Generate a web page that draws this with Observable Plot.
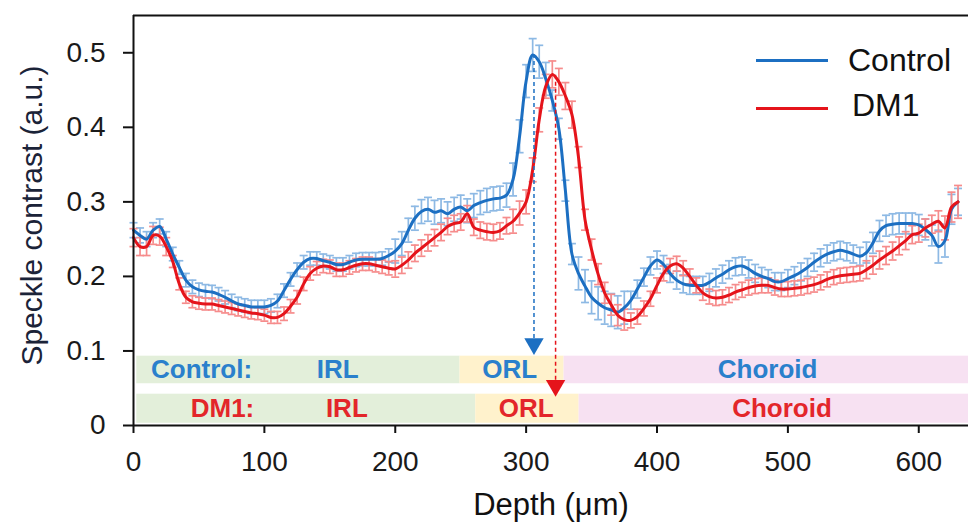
<!DOCTYPE html>
<html><head><meta charset="utf-8">
<script src="https://cdn.jsdelivr.net/npm/d3@7"></script>
<script src="https://cdn.jsdelivr.net/npm/@observablehq/plot@0.6"></script>
<style>
body{margin:0;background:#fff}
#wrap{position:relative;width:969px;height:523px;font-family:"Liberation Sans",Arial,sans-serif}
.lg{position:absolute;left:756px;width:72px;height:3px}
.lt{position:absolute;font-size:32px;line-height:1;color:#111;white-space:nowrap}
</style></head>
<body><div id="wrap"></div>
<script>
const depth = [0,5,10,15,20,25,30,35,40,45,50,55,60,65,70,75,80,85,90,95,100,105,110,115,120,125,130,135,140,145,150,155,160,165,170,175,180,185,190,195,200,205,210,215,220,225,230,235,240,245,250,255,260,265,270,275,280,285,290,295,300,305,310,315,320,325,330,335,340,345,350,355,360,365,370,375,380,385,390,395,400,405,410,415,420,425,430,435,440,445,450,455,460,465,470,475,480,485,490,495,500,505,510,515,520,525,530,535,540,545,550,555,560,565,570,575,580,585,590,595,600,605,610,615,620,625,630];
const controlMean = [0.262,0.255,0.250,0.262,0.267,0.250,0.230,0.212,0.195,0.186,
0.182,0.180,0.179,0.176,0.172,0.167,0.163,0.161,0.159,0.159,
0.159,0.161,0.167,0.181,0.196,0.209,0.219,0.224,0.224,0.221,
0.219,0.216,0.216,0.219,0.222,0.223,0.223,0.223,0.224,0.228,
0.234,0.244,0.262,0.278,0.287,0.290,0.286,0.288,0.284,0.290,
0.293,0.288,0.295,0.299,0.302,0.304,0.305,0.309,0.330,0.388,
0.462,0.497,0.488,0.465,0.436,0.398,0.315,0.230,0.204,0.187,
0.172,0.164,0.158,0.155,0.152,0.158,0.168,0.183,0.199,0.214,
0.222,0.216,0.204,0.195,0.190,0.188,0.188,0.188,0.192,0.198,
0.203,0.209,0.213,0.214,0.210,0.204,0.200,0.197,0.193,0.193,
0.197,0.201,0.206,0.212,0.219,0.225,0.230,0.233,0.235,0.233,
0.230,0.227,0.232,0.245,0.261,0.268,0.270,0.271,0.271,0.271,
0.269,0.263,0.255,0.240,0.248,0.290,0.300];
const controlErr = [0.010,0.010,0.010,0.010,0.010,0.010,
0.009,0.009,0.009,0.009,0.009,0.009,0.009,0.009,0.009,0.009,0.009,0.009,0.009,0.009,0.009,0.009,0.009,
0.009,0.009,0.009,0.009,0.009,0.009,0.009,0.009,0.009,0.009,0.009,0.009,0.009,0.009,0.009,0.009,0.009,
0.016,0.016,0.016,0.016,0.016,0.016,0.016,0.016,0.016,0.016,0.016,0.016,0.016,0.016,0.016,0.016,0.016,0.016,
0.022,0.022,0.022,0.022,0.022,0.022,
0.014,0.014,0.014,0.014,
0.022,0.022,0.022,0.022,0.022,0.022,0.022,0.022,
0.012,0.012,0.012,0.012,0.012,
0.012,0.012,0.012,0.012,0.012,0.012,0.012,0.012,0.012,0.012,0.012,0.012,0.012,0.012,0.012,0.012,0.012,0.012,0.012,0.012,0.012,0.012,0.012,0.012,0.012,0.012,0.012,0.012,0.012,0.012,0.012,
0.014,0.014,0.014,0.014,0.014,0.014,0.014,0.014,0.014,0.014,0.014,
0.022,0.022,0.020,0.018];
const dm1Mean = [0.252,0.240,0.240,0.255,0.254,0.240,0.220,0.190,0.172,0.166,
0.164,0.163,0.163,0.161,0.159,0.157,0.155,0.153,0.151,0.150,
0.148,0.145,0.145,0.150,0.160,0.172,0.190,0.204,0.211,0.214,
0.213,0.209,0.209,0.212,0.215,0.217,0.217,0.215,0.213,0.211,
0.210,0.215,0.222,0.231,0.238,0.245,0.252,0.259,0.267,0.271,
0.273,0.284,0.266,0.262,0.260,0.259,0.261,0.268,0.274,0.285,
0.300,0.343,0.410,0.455,0.471,0.461,0.442,0.417,0.360,0.276,
0.236,0.203,0.178,0.162,0.148,0.142,0.141,0.146,0.157,0.170,
0.188,0.204,0.214,0.217,0.211,0.200,0.188,0.178,0.173,0.171,
0.172,0.175,0.179,0.182,0.185,0.187,0.188,0.188,0.185,0.183,
0.183,0.184,0.185,0.187,0.189,0.192,0.196,0.199,0.201,0.202,
0.203,0.204,0.209,0.215,0.222,0.228,0.234,0.241,0.248,0.256,
0.258,0.265,0.270,0.274,0.265,0.293,0.300];
const dm1Err = [0.012,0.012,0.012,0.012,0.012,0.012,
0.008,0.008,0.008,0.008,0.008,0.008,0.008,0.008,0.008,0.008,0.008,0.008,0.008,0.008,0.008,0.008,0.008,
0.009,0.009,0.009,0.009,0.009,0.009,0.009,0.009,0.009,0.009,0.009,0.009,0.009,0.009,0.009,0.009,0.009,
0.011,0.011,0.011,0.011,0.011,0.011,0.011,0.011,0.011,0.011,0.011,0.011,0.011,0.011,0.011,0.011,0.011,0.011,
0.016,0.016,0.016,0.016,0.016,0.016,
0.018,0.018,0.018,0.018,
0.014,0.014,0.014,0.014,0.014,0.014,0.014,0.014,
0.010,0.010,0.010,0.010,0.010,
0.010,0.010,0.010,0.010,0.010,0.010,0.010,0.010,0.010,0.010,0.010,0.010,0.010,0.010,0.010,0.010,0.010,0.010,0.010,0.010,0.010,0.010,0.010,0.010,0.010,0.010,0.010,0.010,0.010,0.010,0.010,
0.012,0.012,0.012,0.012,0.012,0.012,0.012,0.012,0.012,0.012,0.012,
0.014,0.016,0.020,0.022];

// layer bands (depth in µm, contrast units for the row)
const bandGroup = ["Control","Control","Control","DM1","DM1","DM1"];
const bandLayer = ["IRL","ORL","Choroid","IRL","ORL","Choroid"];
const bandStart = [2.5,249.5,329,2.5,261.5,340.5];
const bandEnd = [249.5,329,638,261.5,340.5,638];
const rowLow = {Control:0.056, DM1:0.003};
const rowHigh = {Control:0.093, DM1:0.042};

const labelText = ["Control:","IRL","ORL","Choroid","DM1:","IRL","ORL","Choroid"];
const labelGroup = ["Control","Control","Control","Control","DM1","DM1","DM1","DM1"];
const labelDepth = [52,156,287.5,484.5,68,163,300,495.5];

// peak arrows
const arrowGroup = ["Control","DM1"];
const arrowDepth = [306,322.5];
const arrowTop = [0.497,0.471];
const arrowTip = [0.098,0.042];

const xTicks = [0,100,200,300,400,500,600];
const yTicks = [0,0.1,0.2,0.3,0.4,0.5];

const lineColor = {Control:"#1c6fc2", DM1:"#e5141b"};
const errColor = {Control:"#8db9e4", DM1:"#f68c8c"};
const textColor = {Control:"#2a80cc", DM1:"#e3262a"};
const layerFill = {IRL:"#e3efda", ORL:"#fff2cc", Choroid:"#f7e1f2"};

const ctrl = depth.map((d,i)=>({x:d,y:controlMean[i],e:controlErr[i]}));
const dm1 = depth.map((d,i)=>({x:d,y:dm1Mean[i],e:dm1Err[i]}));
const bands = bandGroup.map((g,i)=>({g,layer:bandLayer[i],x1:bandStart[i],x2:bandEnd[i]}));
const labels = labelText.map((t,i)=>({t,g:labelGroup[i],x:labelDepth[i]}));
const arrows = arrowGroup.map((g,i)=>({g,x:arrowDepth[i],top:arrowTop[i],tip:arrowTip[i]}));

const cap = {draw(ctx, size){const w=Math.sqrt(size/Math.PI); ctx.moveTo(-w,0); ctx.lineTo(w,0);}};

function errMarks(data, g){
  return [
    Plot.ruleX(data,{x:"x",y1:d=>d.y-d.e,y2:d=>d.y+d.e,stroke:errColor[g],strokeWidth:1.7}),
    Plot.dot(data,{x:"x",y:d=>d.y+d.e,symbol:cap,r:4,stroke:errColor[g],strokeWidth:1.7,fill:"none"}),
    Plot.dot(data,{x:"x",y:d=>d.y-d.e,symbol:cap,r:4,stroke:errColor[g],strokeWidth:1.7,fill:"none"})
  ];
}

const plot = Plot.plot({
  width:969, height:523,
  marginLeft:133, marginRight:1, marginTop:15, marginBottom:98,
  style:{fontFamily:'"Liberation Sans", Arial, sans-serif', fontSize:"28px", color:"#1a1a1a", background:"#fff"},
  x:{domain:[0,638]},
  y:{domain:[0,0.55]},
  marks:[
    Plot.rect(bands,{x1:"x1",x2:"x2",y1:d=>rowLow[d.g],y2:d=>rowHigh[d.g],fill:d=>layerFill[d.layer]}),
    Plot.text(labels,{x:"x",y:d=>(rowLow[d.g]+rowHigh[d.g])/2,text:"t",fill:d=>textColor[d.g],fontWeight:"bold",fontSize:26}),
    ...errMarks(ctrl,"Control"),
    ...errMarks(dm1,"DM1"),
    Plot.line(ctrl,{x:"x",y:"y",stroke:lineColor.Control,strokeWidth:3,curve:"catmull-rom"}),
    Plot.line(dm1,{x:"x",y:"y",stroke:lineColor.DM1,strokeWidth:3,curve:"catmull-rom"}),
    Plot.ruleX(arrows,{x:"x",y1:"tip",y2:"top",stroke:d=>lineColor[d.g],strokeWidth:1.5,strokeDasharray:"4,3"}),
    Plot.dot(arrows,{x:"x",y:"tip",symbol:"triangle",rotate:180,r:7.2,fill:d=>lineColor[d.g],stroke:"none",dy:-8.7}),
    Plot.axisX({ticks:xTicks,tickSize:8,tickPadding:18,strokeWidth:2,stroke:"#111",fontSize:28,label:null}),
    Plot.axisY({ticks:yTicks,tickSize:10,tickPadding:18,strokeWidth:2,stroke:"#111",fontSize:28,label:null,tickFormat:d=>d===0?"0":d3.format(".1f")(d)}),
    Plot.ruleX([0],{stroke:"#111",strokeWidth:2}),
    Plot.ruleY([0],{stroke:"#111",strokeWidth:2}),
    Plot.ruleY([0.55],{stroke:"#111",strokeWidth:2}),
    Plot.text(["Depth (μm)"],{frameAnchor:"bottom",textAnchor:"middle",dy:89,fontSize:31,fill:"#111"}),
    Plot.text(["Speckle contrast (a.u.)"],{frameAnchor:"left",textAnchor:"middle",dx:-101,dy:-5,rotate:-90,fontSize:30,fill:"#1b2338"})
  ]
});
const wrap = document.getElementById("wrap");
wrap.appendChild(plot);

// legend
const legendNames = ["Control","DM1"];
const legendLineTop = [58.5,106.5];
const legendTextTop = [44,89];
const legendTextLeft = [848,852];
legendNames.forEach((n,i)=>{
  const l=document.createElement("div"); l.className="lg";
  l.style.top=legendLineTop[i]+"px"; l.style.background=lineColor[n]; wrap.appendChild(l);
  const t=document.createElement("div"); t.className="lt";
  t.style.top=legendTextTop[i]+"px"; t.style.left=legendTextLeft[i]+"px"; t.textContent=n; wrap.appendChild(t);
});
</script></body></html>
